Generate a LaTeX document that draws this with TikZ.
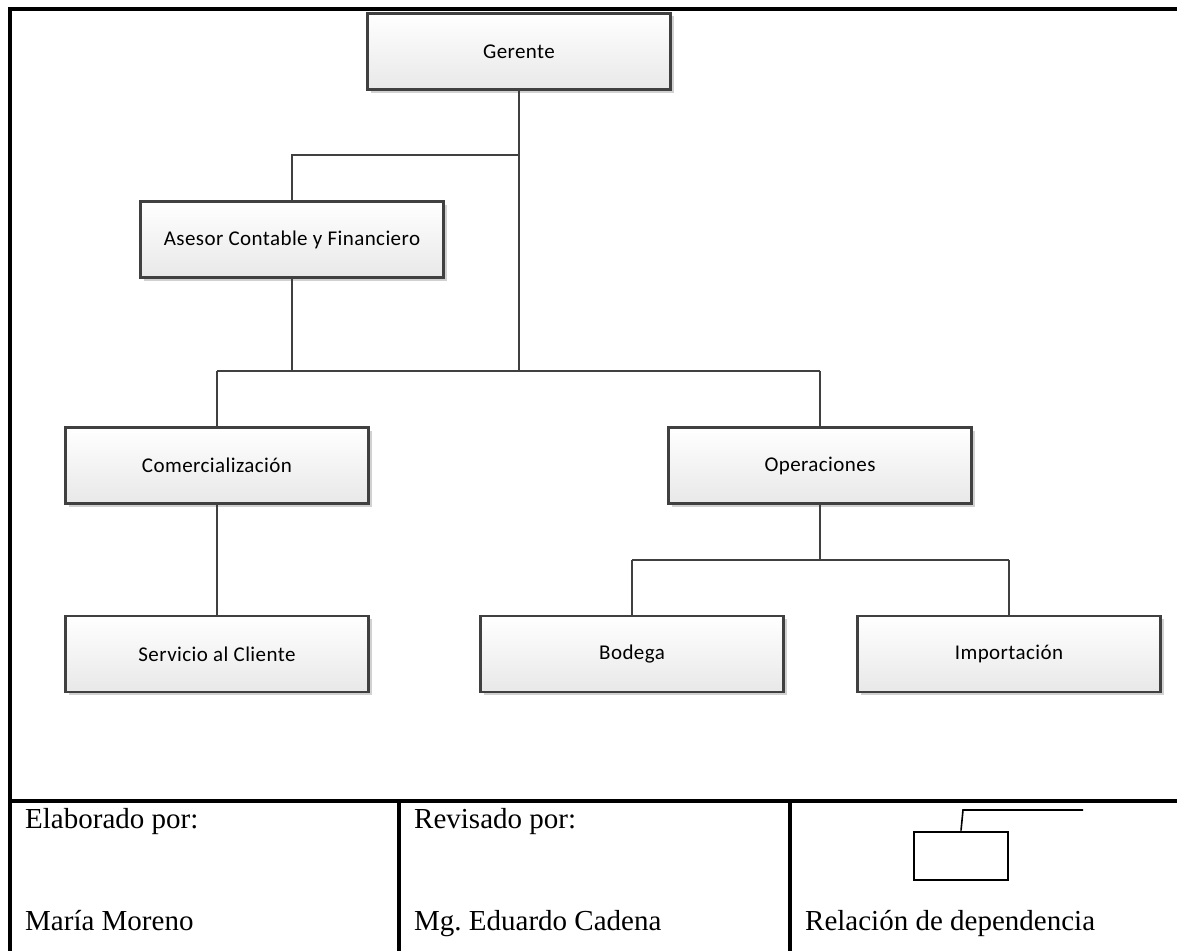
\documentclass[tikz,border=0pt]{standalone}
\usepackage{fontspec}
\setmainfont{Liberation Serif}
\newfontfamily\boxfont[LetterSpace=2]{Carlito}
\usetikzlibrary{shadows}
\definecolor{edge}{HTML}{404040}
\frenchspacing
\tikzset{
  orgbox/.style={rectangle, minimum width=303pt, minimum height=76pt, draw=edge, line width=2.2pt,
    top color=white, bottom color=black!9, inner sep=0pt,
    drop shadow={shadow xshift=3pt, shadow yshift=-3pt, fill=black, opacity=0.18},
    font=\boxfont\fontsize{21}{25}\selectfont},
  link/.style={draw=edge, line width=2.6pt},
  frame/.style={draw=black, line width=3.4pt},
  tabtext/.style={anchor=base west, inner sep=0pt, font=\fontsize{29}{33}\selectfont}
}
\begin{document}
\begin{tikzpicture}[x=1pt,y=-1pt]
\useasboundingbox (0,0) rectangle (1177,950);
% frame and table
\draw[frame] (10,952) -- (10,9) -- (1180,9);
\draw[frame] (10,801) -- (1180,801);
\draw[frame] (399,801) -- (399,952);
\draw[frame] (790,801) -- (790,952);

% connector junctions
\coordinate (ja) at (519,155);
\coordinate (jb) at (292,155);
\coordinate (jc) at (519,371);
\coordinate (jd) at (292,371);
\coordinate (jl) at (217,371);
\coordinate (jr) at (820,371);
\coordinate (je) at (820,560);
\coordinate (jf) at (632,560);
\coordinate (jg) at (1009,560);

% boxes
\node[orgbox] (gerente) at (519,51.5) {Gerente};
\node[orgbox] (asesor) at (292,239.5) {Asesor Contable y Financiero};
\node[orgbox] (comer) at (217,465.5) {Comercialización};
\node[orgbox] (oper) at (820,465.5) {Operaciones};
\node[orgbox] (serv) at (217,654) {Servicio al Cliente};
\node[orgbox] (bod) at (632,654) {Bodega};
\node[orgbox] (imp) at (1009,654) {Importación};

\draw[link] (gerente.south) -- (jc);
\draw[link] (ja) -- (jb) -- (asesor.north);
\draw[link] (asesor.south) -- (jd);
\draw[link] (jl) -- (jr);
\draw[link] (jl) -- (comer.north);
\draw[link] (jr) -- (oper.north);
\draw[link] (oper.south) -- (je);
\draw[link] (jf) -- (jg);
\draw[link] (jf) -- (bod.north);
\draw[link] (jg) -- (imp.north);
\draw[link] (comer.south) -- (serv.north);

% table texts
\node[tabtext] (t1) at (25,828) {Elaborado por:};
\node[tabtext] (t2) at (414,828) {Revisado por:};
\node[tabtext] (t3) at (25,930) {María Moreno};
\node[tabtext] (t4) at (414,930) {Mg. Eduardo Cadena};
\node[tabtext] (t5) at (805,930) {Relación de dependencia};

% legend
\node[draw=black, line width=2.8pt, minimum width=94pt, minimum height=48pt, inner sep=0pt] (leg) at (961,856) {};
\coordinate (lc) at (963,810);
\coordinate (ld) at (1083,810);
\draw[line width=1.6pt] (leg.north) -- (lc) -- (ld);
\end{tikzpicture}
\end{document}
